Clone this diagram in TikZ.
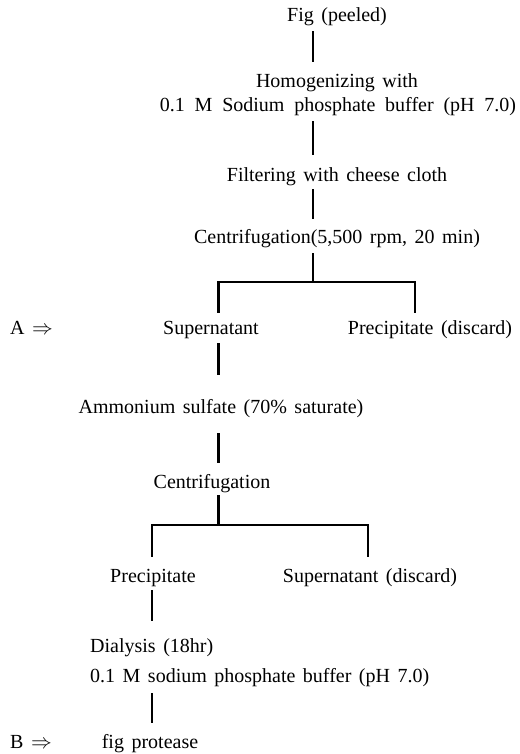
\documentclass[tikz,border=0pt]{standalone}
\usepackage{fontspec}
\setmainfont{Liberation Serif}[WordSpace=1.5]
\usepackage{tikz}
\newcommand{\impl}{$\Rightarrow$}
\newcommand{\widesp}{\spaceskip=9.8pt\relax}

\begin{document}
\begin{tikzpicture}[
  x=1pt,y=-1pt,
  font=\fontsize{20}{24}\selectfont,
  lbl/.style={inner sep=2pt,text height=13pt,text depth=4pt},
  stem/.style={line width=2.8pt}
]
\useasboundingbox (0,0) rectangle (519,754);
% steps
\node[lbl] (fig) at (337,17) {Fig (peeled)};
\node[lbl] (homo) at (337,83.5) {Homogenizing with};
\node[lbl] (buf1) at (338,107.5) {\widesp 0.1 M Sodium phosphate buffer (pH 7.0)};
\node[lbl] (filt) at (337,177.5) {Filtering with cheese cloth};
\node[lbl] (cen1) at (337,238.5) {Centrifugation(5,500 rpm, 20 min)};
\node[lbl,anchor=west] (markA) at (8,329.5) {A \impl};
\node[lbl] (sup1) at (211,329.5) {Supernatant};
\node[lbl] (pre1) at (430,329.5) {Precipitate (discard)};
\node[lbl] (amm) at (221,408.5) {Ammonium sulfate (70\% saturate)};
\node[lbl] (cen2) at (212,483.5) {Centrifugation};
\node[lbl] (pre2) at (153,577.5) {Precipitate};
\node[lbl] (sup2) at (370,577.5) {Supernatant (discard)};
\node[lbl,anchor=west] (dial) at (88,647.5) {Dialysis (18hr)};
\node[lbl,anchor=west] (buf2) at (88,677.5) {0.1 M sodium phosphate buffer (pH 7.0)};
\node[lbl,anchor=west] (markB) at (8,743.5) {B \impl};
\node[lbl] (prot) at (150,743.5) {fig protease};
% trunks and forks
\coordinate (trunk1) at (313,0);
\coordinate (trunk2) at (218.5,0);
\coordinate (trunk3) at (152,0);
\coordinate (fork1) at (313,282);
\coordinate (fork1r) at (415,0);
\coordinate (fork2) at (218.5,525);
\coordinate (fork2r) at (368,0);
\draw[stem,shorten <=3.5pt,shorten >=11pt] (fig.south -| trunk1) -- (homo.north -| trunk1);
\draw[stem,shorten <=3pt,shorten >=12pt] (buf1.south -| trunk1) -- (filt.north -| trunk1);
\draw[stem,shorten <=1pt,shorten >=9pt] (filt.south -| trunk1) -- (cen1.north -| trunk1);
\draw[stem,shorten <=4pt] (cen1.south -| trunk1) -- (fork1);
\draw[stem,shorten <=6pt,shorten >=6pt] (sup1.north -| trunk2) |- (fork1) -| (pre1.north -| fork1r);
\draw[stem,shorten <=3pt,shorten >=23pt] (sup1.south -| trunk2) -- (amm.north -| trunk2);
\draw[stem,shorten <=14pt,shorten >=10pt] (amm.south -| trunk2) -- (cen2.north -| trunk2);
\draw[stem,shorten <=1pt] (cen2.south -| trunk2) -- (fork2);
\draw[stem,shorten <=10pt,shorten >=10pt] (pre2.north -| trunk3) |- (fork2) -| (sup2.north -| fork2r);
\draw[stem,shorten <=2pt,shorten >=16pt] (pre2.south -| trunk3) -- (dial.north -| trunk3);
\draw[stem,shorten <=5pt,shorten >=10pt] (buf2.south -| trunk3) -- (prot.north -| trunk3);
\end{tikzpicture}
\end{document}
